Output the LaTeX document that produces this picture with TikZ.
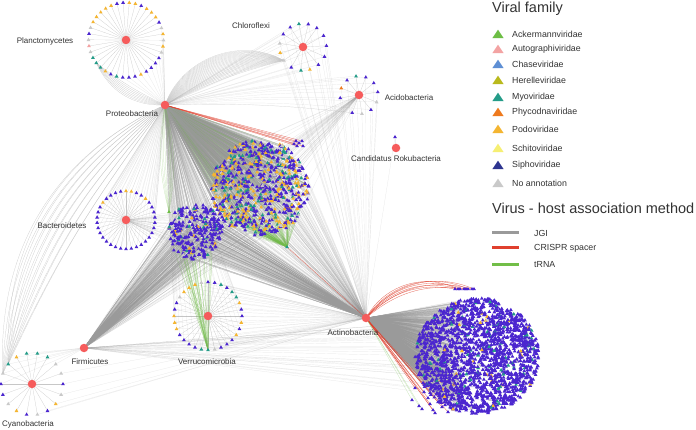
\documentclass[tikz,border=0pt]{standalone}
\usepackage{fontspec}
\setmainfont{Liberation Sans}
\usetikzlibrary{positioning}
\definecolor{hostred}{HTML}{F65C5C}
\definecolor{sipho}{HTML}{4B26CF}
\definecolor{sipholeg}{HTML}{2E3590}
\definecolor{podo}{HTML}{F4B531}
\definecolor{myo}{HTML}{249C88}
\definecolor{noann}{HTML}{C9C9C9}
\definecolor{acker}{HTML}{6DBE45}
\definecolor{autog}{HTML}{F3A3A3}
\definecolor{chase}{HTML}{5E8FD4}
\definecolor{herel}{HTML}{B9B91C}
\definecolor{phyco}{HTML}{EE7A1E}
\definecolor{schito}{HTML}{F6EF73}
\definecolor{jgigray}{HTML}{9A9A9A}
\definecolor{crisprred}{HTML}{E0402E}
\definecolor{trnagreen}{HTML}{72BE48}
\definecolor{labeltext}{HTML}{333333}
\pgfdeclarelayer{front}
\pgfsetlayers{main,front}
\tikzset{
  host/.style={circle, fill=hostred, minimum size=8.5pt, inner sep=0pt},
  hostlabel/.style={font=\fontsize{8}{9}\selectfont, text=labeltext, inner sep=1pt},
  legtitle/.style={font=\fontsize{14.5}{16}\selectfont, text=labeltext, anchor=west, inner sep=0pt},
  legtext/.style={font=\fontsize{8.8}{10}\selectfont, text=labeltext, anchor=west, inner sep=0pt},
  jgi/.style={draw=jgigray, line width=0.2pt, opacity=0.45},
  jgilight/.style={draw=jgigray, line width=0.2pt, opacity=0.25},
  spoke/.style={draw=black!22, line width=0.2pt},
  arcline/.style={draw=black!22, line width=0.2pt},
  crispr/.style={draw=crisprred, line width=0.3pt, opacity=0.8},
  trna/.style={draw=trnagreen, line width=0.25pt, opacity=0.4},
  legline/.style={line width=3pt},
}
% small virus triangle at #1 in colour #2
\newcommand\vtri[2]{\fill[#2] (#1) ++(0,-2.1) -- ++(1.9,3.3) -- ++(-3.8,0) -- cycle;}
% legend triangle
\newcommand\legtri[2]{\fill[#2] (#1) ++(0,-4.3) -- ++(5.6,8.4) -- ++(-11.2,0) -- cycle;}
% one random virus: centre #1,#2, radii #3,#4, colour thresholds #5,#6,#7
% -> \vx, \vy, \vcol, \vs
\newcommand\virpt[7]{%
  \pgfmathsetmacro\vang{360*rnd}\pgfmathsetmacro\vrad{sqrt(rnd)}%
  \pgfmathsetmacro\vx{#1+#3*\vrad*cos(\vang)}%
  \pgfmathsetmacro\vy{#2+#4*\vrad*sin(\vang)}%
  \pgfmathsetmacro\vr{rnd}%
  \ifdim\vr pt<#5pt\def\vcol{sipho}\else
  \ifdim\vr pt<#6pt\def\vcol{podo}\else
  \ifdim\vr pt<#7pt\def\vcol{myo}\else
  \def\vcol{noann}\fi\fi\fi
  \pgfmathsetmacro\vs{rnd}}

\begin{document}
\begin{tikzpicture}[x=1pt, y=-1pt]
\useasboundingbox (0,0) rectangle (696,430);
\fill[white] (0,0) rectangle (696,430);

% hosts
\begin{pgfonlayer}{front}
  \node[host] (plancto) at (126,40) {};
  \node[host] (chloro)  at (303,47) {};
  \node[host] (acido)   at (359,95) {};
  \node[host] (roku)    at (396,148) {};
  \node[host] (proteo)  at (165,105) {};
  \node[host] (bactero) at (126,220) {};
  \node[host] (firmi)   at (84,348) {};
  \node[host] (verruco) at (208,316) {};
  \node[host] (cyano)   at (32,384) {};
  \node[host] (actino)  at (366,318) {};

  \node[hostlabel] (plancto-l) at (45,41)   {Planctomycetes};
  \node[hostlabel] (chloro-l)  at (251,26)  {Chloroflexi};
  \node[hostlabel] (acido-l)   at (409,98)  {Acidobacteria};
  \node[hostlabel, below=2pt of roku] (roku-l) {Candidatus Rokubacteria};
  \node[hostlabel] (proteo-l)  at (132,114) {Proteobacteria};
  \node[hostlabel] (bactero-l) at (62,226)  {Bacteroidetes};
  \node[hostlabel] (firmi-l)   at (90,362)  {Firmicutes};
  \node[hostlabel] (verruco-l) at (207,362) {Verrucomicrobia};
  \node[hostlabel] (cyano-l)   at (28,424)  {Cyanobacteria};
  \node[hostlabel] (actino-l)  at (353,333) {Actinobacteria};
\end{pgfonlayer}

% ring positions
\foreach \i in {1,...,38} {\path (plancto) ++({-85+(\i-1)*360/38}:37.5) coordinate (pla-\i);}
\foreach \a [count=\i] in {-100,-77,-54,-29,-3,24,49,73,95,120,145,166,189,213,237}
  {\path (chloro) ++(\a:23.5) coordinate (chl-\i);}
\foreach \a [count=\i] in {-99,-69,-39,-9,22,51,81,111,171,201,231}
  {\path (acido) ++(\a:19) coordinate (aci-\i);}
\coordinate (rok-1) at (395,137);
\foreach \i in {1,...,34} {\path (bactero) ++({-90+(\i-1)*360/34}:29) coordinate (bac-\i);}
\foreach \i in {1,...,32} {\path (verruco) ++({-90+(\i-1)*360/32}:34) coordinate (ver-\i);}
\foreach \i in {1,...,18} {\path (cyano) ++({-100+(\i-1)*20}:31) coordinate (cya-\i);}
\coordinate (trnaA) at (287,247);
\coordinate (trnaP) at (169,212);

% ---------- edges ----------
\foreach \i in {1,...,38} {\draw[spoke] (plancto.center) -- (pla-\i);}
\foreach \i in {1,...,15} {\draw[spoke] (chloro.center) -- (chl-\i);}
\foreach \i in {1,...,11} {\draw[spoke] (acido.center) -- (aci-\i);}
\draw[spoke] (roku.center) -- (rok-1);
\foreach \i in {1,...,34} {\draw[spoke] (bactero.center) -- (bac-\i);}
\foreach \i in {1,...,32} {\draw[spoke] (verruco.center) -- (ver-\i);}
\foreach \i in {1,...,18} {\draw[spoke] (cyano.center) -- (cya-\i);}

\foreach \b in {6,8,...,50} {\draw[arcline] (proteo.center) to[bend left=\b] (chl-11);}
\foreach \b in {6,10,...,34} {
  \draw[arcline] (proteo.center) to[bend left=\b] (pla-25);
  \draw[arcline] (proteo.center) to[bend right=\b] (cya-17);
  \draw[arcline] (proteo.center) to[bend right=\b] (cya-16);
}
\foreach \i in {1,...,15} {
  \draw[jgilight] (proteo.center) -- (chl-\i);
  \draw[jgilight] (actino.center) -- (chl-\i);
}
\foreach \i in {1,...,11} {
  \draw[jgilight] (proteo.center) to[bend left=4] (aci-\i);
  \draw[jgilight] (actino.center) -- (aci-\i);
}
\draw[jgilight] (actino.center) -- (rok-1);
\foreach \i in {8,...,20} {\draw[jgilight] (proteo.center) -- (pla-\i);}
\foreach \i in {1,...,34} {\draw[jgilight] (proteo.center) -- (bac-\i);}
\foreach \i in {1,...,32} {
  \draw[jgilight] (proteo.center) -- (ver-\i);
  \draw[jgilight] (actino.center) -- (ver-\i);
}
\foreach \i in {5,...,10} {\draw[jgilight] (actino.center) -- (cya-\i);}
\foreach \i in {1,2,3,4,15,16,17,18} {\draw[jgilight] (firmi.center) -- (cya-\i);}

\pgfmathsetseed{4711}
% Proteobacteria cloud
\foreach \k in {1,...,800} {
  \virpt{260}{188}{49}{48}{0.53}{0.80}{0.92}
  \coordinate (v) at (\vx,\vy);
  \draw[jgi] (proteo.center) -- (v);
  \ifdim\vs pt<0.20pt \draw[jgilight] (actino.center) -- (v);\fi
  \ifdim\vs pt>0.90pt \draw[trna] (proteo.center) -- (v);\fi
  \ifdim\vs pt>0.30pt\ifdim\vs pt<0.35pt \draw[jgilight] (acido.center) -- (v);\fi\fi
  \ifdim\vs pt>0.36pt\ifdim\vs pt<0.44pt \draw[jgilight] (firmi.center) -- (v);\fi\fi
  \ifdim\vy pt>200pt\ifdim\vs pt>0.55pt \draw[trna] (trnaA) -- (v);\fi\fi
}
% small shared cloud
\foreach \k in {1,...,260} {
  \virpt{195}{232}{28}{28}{0.86}{0.92}{0.98}
  \coordinate (v) at (\vx,\vy);
  \ifdim\vs pt<0.45pt \draw[jgi] (proteo.center) -- (v);\fi
  \ifdim\vs pt>0.25pt \draw[jgi] (actino.center) -- (v);\fi
  \ifdim\vs pt>0.35pt \draw[jgi] (firmi.center) -- (v);\fi
  \ifdim\vs pt<0.12pt \draw[jgilight] (bactero.center) -- (v);\fi
  \ifdim\vy pt>238pt\ifdim\vs pt<0.5pt \draw[trna] (ver-17) -- (v);\fi\fi
}
% Actinobacteria cloud
\foreach \k in {1,...,1900} {
  \virpt{477}{356}{62}{58}{0.94}{0.955}{0.99}
  \coordinate (v) at (\vx,\vy);
  \ifdim\vx pt<470pt \draw[jgi] (actino.center) -- (v);\fi
  \ifdim\vs pt<0.015pt \draw[jgilight] (firmi.center) -- (v);\fi
}

% CRISPR and tRNA links
\foreach \xe/\ye [count=\i] in {296/141,299/143,302/141,297/146,303/146,294/144} {
  \coordinate (crp-\i) at (\xe,\ye);
  \draw[crispr] (proteo.center) -- (crp-\i);
}
\foreach \xe/\b [count=\i] in {455/28,460/32,464/36,468/40,472/30,458/44,466/24,474/38} {
  \coordinate (cra-\i) at (\xe,289);
  \draw[crispr] (actino.center) to[bend left=\b] (cra-\i);
}
\foreach \xe/\ye [count=\i] in {433/410,435/413,442/407,448/412,428/398,424/392,438/402,445/405,415/388,430/404} {
  \coordinate (crb-\i) at (\xe,\ye);
  \draw[crispr] (actino.center) -- (crb-\i);
}
\foreach \xe/\ye [count=\i] in {419/406,422/409,412/400} {
  \coordinate (trb-\i) at (\xe,\ye);
  \draw[trna] (actino.center) -- (trb-\i);
}
\draw[crispr] (trnaA) -- (actino.center);
\foreach \b in {3,6,...,12} {
  \draw[trna] (proteo.center) to[bend left=\b] (trnaP);
  \draw[trna] (proteo.center) to[bend right=\b] (trnaP);
}

% ---------- virus triangles ----------
\foreach \c [count=\i] in {podo,podo,sipho,podo,podo,podo,sipho,noann,podo,noann,podo,noann,sipho,sipho,sipho,sipho,podo,sipho,sipho,sipho,myo,sipho,podo,myo,myo,myo,noann,autog,noann,sipho,noann,podo,podo,podo,podo,podo,sipho,sipho}
  {\vtri{pla-\i}{\c}}
\foreach \c [count=\i] in {myo,sipho,sipho,sipho,sipho,sipho,sipho,podo,myo,sipho,noann,podo,noann,sipho,sipho}
  {\vtri{chl-\i}{\c}}
\foreach \c [count=\i] in {myo,sipho,sipho,sipho,noann,sipho,noann,sipho,sipho,phyco,sipho}
  {\vtri{aci-\i}{\c}}
\vtri{rok-1}{sipho}
\foreach \c [count=\i] in {podo,podo,sipho,sipho,podo,sipho,sipho,sipho,sipho,sipho,sipho,sipho,sipho,sipho,sipho,sipho,sipho,sipho,sipho,sipho,sipho,sipho,sipho,sipho,sipho,sipho,sipho,sipho,sipho,podo,sipho,sipho,sipho,sipho}
  {\vtri{bac-\i}{\c}}
\foreach \c [count=\i] in {sipho,sipho,myo,sipho,myo,myo,podo,sipho,sipho,podo,sipho,podo,sipho,sipho,sipho,noann,myo,myo,sipho,sipho,sipho,sipho,podo,podo,podo,sipho,sipho,noann,podo,podo,podo,noann}
  {\vtri{ver-\i}{\c}}
\foreach \c [count=\i] in {myo,myo,myo,noann,noann,sipho,noann,podo,sipho,noann,sipho,podo,noann,sipho,sipho,noann,myo,podo}
  {\vtri{cya-\i}{\c}}

\pgfmathsetseed{4711}
\foreach \k in {1,...,800} {
  \virpt{260}{188}{49}{48}{0.53}{0.80}{0.92}
  \coordinate (v) at (\vx,\vy);
  \vtri{v}{\vcol}
}
\foreach \k in {1,...,260} {
  \virpt{195}{232}{28}{28}{0.86}{0.92}{0.98}
  \coordinate (v) at (\vx,\vy);
  \vtri{v}{\vcol}
}
\foreach \k in {1,...,1900} {
  \virpt{477}{356}{62}{58}{0.94}{0.955}{0.99}
  \coordinate (v) at (\vx,\vy);
  \vtri{v}{\vcol}
}
\foreach \i in {1,...,6} {\vtri{crp-\i}{sipho}}
\foreach \i in {1,...,8} {\vtri{cra-\i}{sipho}}
\foreach \i in {1,...,10} {\vtri{crb-\i}{sipho}}
\foreach \i in {1,2,3} {\vtri{trb-\i}{sipho}}
\vtri{trnaA}{myo}
\vtri{trnaP}{acker}

% legend: viral family
\node[legtitle] (fam-title) at (492,9) {Viral family};
\foreach \col/\name/\y in {acker/Ackermannviridae/34, autog/Autographiviridae/49, chase/Chaseviridae/64, herel/Herelleviridae/80, myo/Myoviridae/97, phyco/Phycodnaviridae/112, podo/Podoviridae/129, schito/Schitoviridae/148, sipholeg/Siphoviridae/165, noann/No annotation/183} {
  \coordinate (leg-\col) at (498,\y);
  \legtri{leg-\col}{\col}
  \node[legtext] (legt-\col) at (512,\y) {\name};
}

% legend: association method
\node[legtitle] (assoc-title) at (492,208) {Virus - host association method};
\foreach \col/\name/\y in {jgigray/JGI/233, crisprred/CRISPR spacer/248, trnagreen/tRNA/265} {
  \coordinate (ls-\y) at (492,\y);
  \coordinate (le-\y) at (519,\y);
  \draw[legline, \col] (ls-\y) -- (le-\y);
  \node[legtext] (lt-\y) at (534,\y) {\name};
}
\end{tikzpicture}
\end{document}
